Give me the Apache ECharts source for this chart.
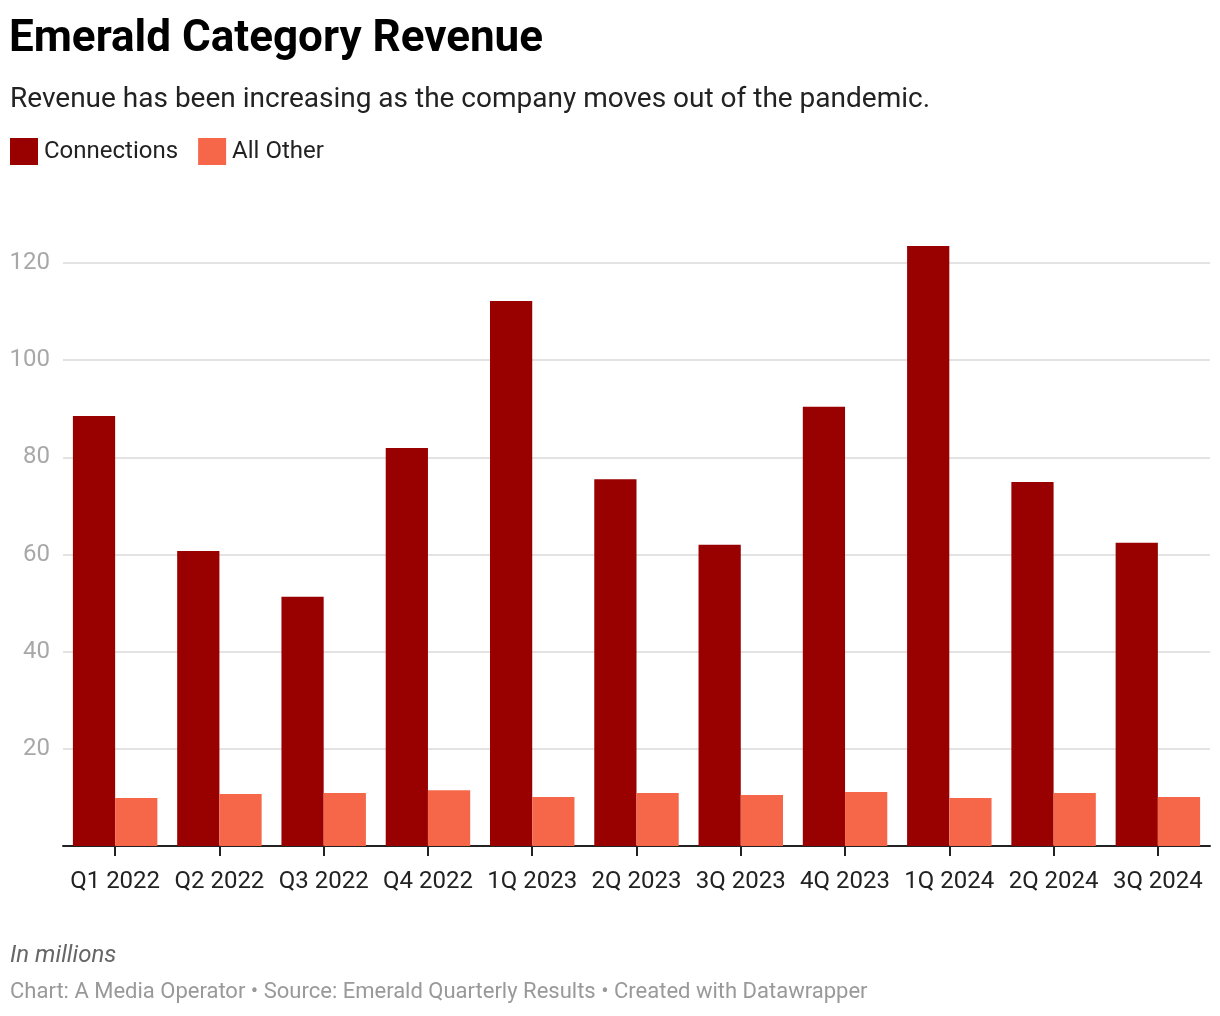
<!DOCTYPE html>
<html>
<head>
<meta charset="utf-8">
<script src="https://cdn.jsdelivr.net/npm/echarts@6/dist/echarts.min.js"></script>
<style>
html,body{margin:0;padding:0;background:#fff;}
#chart{width:1220px;height:1016px;}
</style>
</head>
<body>
<div id="chart"></div>
<script>
const categories = ["Q1 2022","Q2 2022","Q3 2022","Q4 2022","1Q 2023","2Q 2023","3Q 2023","4Q 2023","1Q 2024","2Q 2024","3Q 2024"];
const connections = [88.5, 60.7, 51.3, 81.9, 112.2, 75.5, 62.0, 90.4, 123.5, 74.9, 62.4];
const allOther = [9.9, 10.7, 10.9, 11.5, 10.1, 10.9, 10.5, 11.1, 9.9, 10.9, 10.1];
const yTicks = [0, 20, 40, 60, 80, 100, 120];

const FONT = 'Roboto, "Noto Sans", sans-serif';
const chart = echarts.init(document.getElementById('chart'), null, {renderer: 'canvas'});
chart.setOption({
  backgroundColor: '#ffffff',
  textStyle: {fontFamily: FONT},
  title: [
    {text: 'Emerald Category Revenue', left: 9, top: 18, padding: 0,
     textStyle: {fontFamily: FONT, fontSize: 44, fontWeight: 'bold', color: '#000'}},
    {text: 'Revenue has been increasing as the company moves out of the pandemic.', left: 10, top: 86, padding: 0,
     textStyle: {fontFamily: FONT, fontSize: 28, fontWeight: 'normal', color: '#222'}}
  ],
  legend: {
    left: 10, top: 138, padding: 0,
    icon: 'rect', itemWidth: 28, itemHeight: 27, itemGap: 20,
    textStyle: {fontFamily: FONT, fontSize: 24, color: '#222', padding: [0,0,0,1]},
    data: ['Connections', 'All Other'],
    selectedMode: false
  },
  graphic: [
    {type: 'text', left: 10, top: 944, style: {text: 'In millions', font: 'italic 24px ' + FONT, fill: '#666'}},
    {type: 'text', left: 10, top: 981, style: {text: 'Chart: A Media Operator • Source: Emerald Quarterly Results • Created with Datawrapper', font: '22px ' + FONT, fill: '#999'}}
  ],
  grid: {left: 63, right: 10, top: 263, bottom: 170, containLabel: false},
  xAxis: {
    type: 'category',
    data: categories,
    axisLine: {lineStyle: {color: '#222', width: 2}},
    axisTick: {show: true, alignWithLabel: true, length: 10, lineStyle: {color: '#222', width: 2}},
    axisLabel: {fontFamily: FONT, fontSize: 24, color: '#222', margin: 24, interval: 0}
  },
  yAxis: {
    type: 'value',
    min: yTicks[0], max: yTicks[yTicks.length-1], interval: 20,
    axisLine: {show: false},
    axisTick: {show: false},
    splitLine: {lineStyle: {color: '#e3e3e3', width: 2}},
    axisLabel: {fontFamily: FONT, fontSize: 24, color: '#a8a8a8', margin: 13,
      formatter: v => (v === 0 ? '' : String(v))}
  },
  series: [
    {name: 'Connections', type: 'bar', data: connections, clip: false,
     itemStyle: {color: '#990000'}, barGap: '0%', barCategoryGap: '19%'},
    {name: 'All Other', type: 'bar', data: allOther, clip: false,
     itemStyle: {color: '#f6674a'}, barGap: '0%', barCategoryGap: '19%'}
  ]
});
</script>
</body>
</html>
